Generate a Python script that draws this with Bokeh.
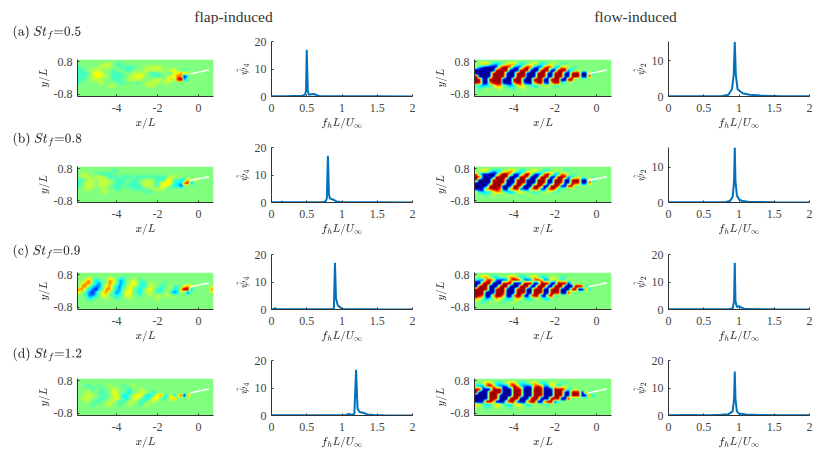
import numpy as np
from bokeh.embed import file_html
from bokeh.resources import INLINE
from bokeh.plotting import figure
from bokeh.layouts import column, row
from bokeh.models import Label, LinearColorMapper, FixedTicker, Range1d

KEYS = "Bnbcl.yYorR"
ANCHORS = [(0, 0, 150), (0, 0, 255), (0, 127, 255), (0, 255, 255), (64, 255, 191), (128, 255, 128),
           (191, 255, 64), (255, 255, 0), (255, 127, 0), (255, 0, 0), (160, 0, 0)]

FLAP_A = [
"",
".......yyy.ll",
"l.....yyyy..lllll...yyyyy",
"ll..yyy...l...ll...yyyyyy.yyY..l",
"lll.yYYy..lll...yyyy.lll...lYYoYy",
"lll.yYYyy.llll.yyYYy..lll.yyYooBl",
"ll..yyy...lll..yyyy...yyy.yo.rRb",
"l.....yy....ll...l..yyyy.yy",
".........yy.........yyy",
"", "", ""]
FLAP_B = [
"",
"..........ll",
".yy...llll",
".yyy.yyy.lll.lll.lllllllll.yyy",
"ll.yy.yyy..lll..ll..yy.lllYYllcco.Y",
"l.yyy.yyyy.lll.lll.yyy.lyYYYlccrRb",
"l.yyy.yyy.lll.lllllyyy.lyYYlccn",
"..yy...y...ll...llll..yyyyl",
".......yy...........ll",
"", "", ""]
FLAP_C = [
"",
"...y.....y...l",
"..Yo.cl..oY.bc..Y.l",
".Yoo.cb..oY.bc.yYylc.y...l",
".oo.cbb.Yo.cbl.Yy.lc.yy.ll.yll.YoY.....y",
"oo.cbnc.oo.cb.yY.lc.yY.lc..yccoRRb.....o",
"Y.lbnc.Yo.lbc.YY.lc.yy.ll.ycbcy.n......y",
"..lbbc.Yy.lcl.Yy..l..y.yy.yy",
"...cl...y..l...y.......y",
"", "", ""]
FLAP_D = [
"",
"",
"..ll..l..y...l..y",
"....l..l..yy..ll..y",
"..yy..ll..Yy..lc..yY..c",
"..yyy..ll.yY.cc.yYY.cc.Yo.cocyrBr",
".yyy..ll..yY.lc.yY.lc.YY.c.Yo",
"..y..ll..yy.ll.yy.ll.yy",
"....l...yy..l..y..l.y",
"", "", ""]
FLOW_A = [
"",
".yoo.cbc.yoo.cc.yo.cc.yy.ll",
"ycnBBBnoRRobnboRobnboRocboYy.l",
"BBBBBBRRRRBBBRRRBBBRRRBBRRRbc.y",
"BBBBBRRRRBBBRRRBBBRRRBBRRRBBRRRBBrc",
"RBBBBRRRRBBBRRRBBBRRRBBRRRBBRRRBBr",
"RRBBRRRRBBBRRRBBBRRRBBRRRBBRRl",
"RRBBoRRRBBBoRRnBBoRRnBoRRc",
"lcbccyoo.cbcyoy.lcl.yy.ll",
".l.y...y...l..y",
"", ""]
FLOW_B = [
"",
".yoo.ccc.yoo.cc.yoy.cc.yy.ll",
"ocnnBBnoRRobnboRobnboRocboYy.l",
"RRBBBBRRRRBBBRRRBBBRRRBBRRRbc.y",
"RBBBBRRRRBBBRRRBBBRRRBBRRRBBRRRBBrc",
"BBBBBRRRRBBBRRRBBBRRRBBRRRBBRRRBBr",
"BBBBRRRRBBBRRRBBBRRRBBRRRBBRRl",
"BBnoRRRoBBoRRnBBoRRnBoRRc",
"ycbccyoo.cbcyoy.lcl.yy.ll",
"...l.y...y...l..y",
"", ""]
FLOW_C = [
"",
".yoo.cc..yoo.cc.yo.cc.yy.ll",
"cbnoRobnnboRRobnboRobbo.yc.y",
"BBRRRBBBRRRBBBRRRBBRRRBBRRRBy",
"BRRRBBBRRRBBBRRRBBRRRBBRRRBBBRRrc",
"RRRRBBRRRBBBRRRBBRRRBBRRRBBBRRBBrc",
"RRRBBBRRRBBBRRRBBRRRBBRRRBBRl",
"RRoBBoRRoBBoRRnBoRRnBoRc",
"oy.bc.oy.cc.oy.cc.y.cc",
"..c.y...l..y.l",
"", ""]
FLOW_D = [
"",
"..yoo.cc.yoo.cc.yo.cc.yy.ll",
"cbboRocbnboRocbnboRobboyc.y",
"RRBBBRRRBBBRRRBBBRRRBBBRRRoc.y",
"RBBBRRRRBBBRRRBBBRRRBBBRRRBBRRRBrc",
"BBBBRRRBBBBRRRBBBRRRBBBRRRBBRRRBBrc",
"BBBBRRRBBBRRRBBBRRRBBBRRRBBRl",
"BBnRRoBBBoRRnBBoRRnBoRRnl",
"oy.cc.oy.cc.oy.cl.y.ll",
"...l..y...l..y",
"", ""]
FOIL_X = [-0.4, 0.5]
FOIL_Y = [0.2, 0.39]
MAP_X = [-5.9, 0.73]
MAP_Y = [-0.9, 0.9]

LABELS = [r"$$\text{(a) }St_f{=}0.5$$", r"$$\text{(b) }St_f{=}0.8$$",
          r"$$\text{(c) }St_f{=}0.9$$", r"$$\text{(d) }St_f{=}1.2$$"]

FA_X = [0, 0.2, 0.44, 0.475, 0.49, 0.5, 0.515, 0.53, 0.56, 0.6, 0.65, 0.7, 1.0, 1.5, 2]
FA_Y = [0.05, 0.05, 0.3, 0.7, 2, 17, 2, 0.6, 0.8, 0.9, 0.4, 0.1, 0.1, 0.08, 0.03]
FB_X = [0, 0.13, 0.15, 0.17, 0.5, 0.74, 0.77, 0.785, 0.8, 0.815, 0.83, 0.87, 0.92, 1.0, 1.5, 2]
FB_Y = [0.05, 0.05, 0.3, 0.05, 0.05, 0.1, 0.5, 1.5, 17, 3, 1.4, 1.1, 0.4, 0.1, 0.08, 0.03]
FC_X = [0, 0.03, 0.05, 0.07, 0.5, 0.86, 0.885, 0.9, 0.915, 0.94, 0.97, 1.0, 1.05, 1.5, 2]
FC_Y = [0.05, 0.1, 0.5, 0.1, 0.05, 0.05, 0.4, 17, 4, 1.5, 0.9, 0.2, 0.1, 0.05, 0.03]
FD_X = [0, 0.5, 0.9, 1.05, 1.1, 1.14, 1.175, 1.2, 1.22, 1.25, 1.3, 1.36, 1.45, 1.6, 2]
FD_Y = [0.05, 0.05, 0.1, 0.2, 0.6, 0.2, 0.6, 16.6, 2.5, 1.3, 1.0, 0.4, 0.15, 0.08, 0.03]
GA_X = [0, 0.5, 0.75, 0.85, 0.9, 0.925, 0.94, 0.955, 0.98, 1.05, 1.15, 1.3, 1.6, 2]
GA_Y = [0.05, 0.05, 0.1, 0.5, 2, 6, 15.2, 6, 2, 0.9, 0.5, 0.25, 0.1, 0.05]
GB_X = [0, 0.5, 0.8, 0.87, 0.91, 0.93, 0.94, 0.95, 0.97, 1.0, 1.05, 1.15, 1.5, 2]
GB_Y = [0.05, 0.05, 0.1, 0.4, 1.6, 6, 15.7, 6, 2, 0.9, 0.4, 0.15, 0.08, 0.03]
GC_X = [0, 0.5, 0.85, 0.91, 0.93, 0.94, 0.95, 0.97, 1.0, 1.03, 1.08, 1.5, 2]
GC_Y = [0.05, 0.05, 0.1, 0.4, 3, 17, 3, 0.9, 1.2, 0.8, 0.15, 0.05, 0.03]
GD_X = [0, 0.25, 0.6, 0.75, 0.85, 0.91, 0.93, 0.94, 0.95, 0.97, 1.0, 1.1, 1.3, 1.6, 2]
GD_Y = [0.1, 0.15, 0.1, 0.25, 0.5, 1.5, 6, 16, 6, 1.5, 0.7, 0.35, 0.15, 0.1, 0.05]
FREQ_TICKS = [0, 0.5, 1, 1.5, 2]

INK = "#333333"
SERIF = "Liberation Serif"
levels = np.linspace(0, 10, 256)
anchors = np.array(ANCHORS, dtype=float)
palette = ["#%02x%02x%02x" % tuple(int(round(np.interp(v, np.arange(11), anchors[:, k]))) for k in range(3))
           for v in levels]
mapper = LinearColorMapper(palette=palette, low=0, high=10)


def display_grid(rows, k=4):
    grid = np.array([[KEYS.index(c) for c in r.ljust(40, ".")[:40]] for r in rows], dtype=float)
    ny, nx = grid.shape
    yy = (np.arange(ny * k) + 0.5) / k - 0.5
    xx = (np.arange(nx * k) + 0.5) / k - 0.5
    by_col = np.array([np.interp(yy, np.arange(ny), grid[:, j]) for j in range(nx)]).T
    fine = np.array([np.interp(xx, np.arange(nx), line) for line in by_col])
    return np.flipud(fine)


def style(p, xticks, yticks, xlabel, ylabel, ylab_standoff):
    p.grid.visible = False
    p.outline_line_color = None
    p.background_fill_color = None
    p.border_fill_color = None
    for ax, ticks in ((p.xaxis[0], xticks), (p.yaxis[0], yticks)):
        ax.ticker = FixedTicker(ticks=ticks)
        ax.major_label_overrides = {t: f"{t:g}" for t in ticks}
        ax.major_tick_in = 2
        ax.major_tick_out = 0
        ax.minor_tick_line_color = None
        ax.axis_line_color = INK
        ax.axis_line_width = 1
        ax.major_tick_line_color = INK
        ax.major_label_text_font = SERIF
        ax.major_label_text_font_size = "12px"
        ax.major_label_text_color = "#444444"
        ax.axis_label_text_color = "#333333"
        ax.axis_label_text_font_size = "11px"
        ax.axis_label_text_font = SERIF
    p.xaxis[0].axis_label = xlabel
    p.yaxis[0].axis_label = ylabel
    p.xaxis[0].major_label_standoff = 7
    p.xaxis[0].axis_label_standoff = 3
    p.yaxis[0].major_label_standoff = 5
    p.yaxis[0].axis_label_standoff = ylab_standoff


def map_panel(rows, total_h, top, h, left, w, right):
    p = figure(width=left + w + right, height=total_h, x_range=Range1d(*MAP_X), y_range=Range1d(*MAP_Y),
               toolbar_location=None, output_backend="svg", min_border_left=left, min_border_right=right,
               min_border_top=top, min_border_bottom=total_h - top - h)
    p.image(image=[display_grid(rows)], x=MAP_X[0], y=MAP_Y[0], dw=MAP_X[1] - MAP_X[0], dh=MAP_Y[1] - MAP_Y[0],
            color_mapper=mapper)
    p.line(FOIL_X, FOIL_Y, line_color="white", line_width=1.5)
    style(p, [-4, -2, 0], [-0.8, 0.8], "$$x/L$$", "$$y/L$$", 0)
    return p


def line_panel(xs, ys, ymax, yticks, ylabel, total_h, top, h, left, right):
    p = figure(width=left + 141 + right, height=total_h, x_range=Range1d(0, 2), y_range=Range1d(0, ymax),
               toolbar_location=None, output_backend="svg", min_border_left=left, min_border_right=right,
               min_border_top=top, min_border_bottom=total_h - top - h)
    p.line(xs, ys, line_color="#0072BD", line_width=2)
    style(p, FREQ_TICKS, yticks, r"$$f_hL/U_\infty$$", ylabel, 2)
    return p


def band(width, height):
    b = figure(width=width, height=height, x_range=Range1d(0, 1), y_range=Range1d(0, 1),
               toolbar_location=None, output_backend="svg", min_border=0)
    b.axis.visible = False
    b.grid.visible = False
    b.outline_line_color = None
    return b


header = band(822, 24)
for txt, cx in (("flap-induced", 233), ("flow-induced", 635)):
    header.add_layout(Label(x=cx, y=8, x_units="screen", y_units="screen", text=txt, text_font=SERIF,
                            text_font_size="15.5px", text_color="#333333", text_align="center",
                            text_baseline="middle"))

# height, band height, label offset from band top, map top, line top
specs = [
    (108, 20, 8, FLAP_A, FLOW_A, FA_X, FA_Y, GA_X, GA_Y, 20, [0, 10, 20], 15.3, [0, 10], 35, 17),
    (106, 20, 7, FLAP_B, FLOW_B, FB_X, FB_Y, GB_X, GB_Y, 20, [0, 10, 20], 15.6, [0, 10], 34, 15),
    (107, 24, 13, FLAP_C, FLOW_C, FC_X, FC_Y, GC_X, GC_Y, 20, [0, 10, 20], 20, [0, 10, 20], 34, 16),
    (106, 20, 9, FLAP_D, FLOW_D, FD_X, FD_Y, GD_X, GD_Y, 20, [0, 10, 20], 20, [0, 10, 20], 33, 15),
]
rows_ = []
for i, (H, bh, ly, fl, fw, ax_, ay_, bx_, by_, m1, t1, m2, t2, mtop, ltop) in enumerate(specs):
    lb = band(227, bh)
    lb.add_layout(Label(x=12, y=bh - ly, x_units="screen", y_units="screen", text=LABELS[i], text_font=SERIF,
                        text_font_size="12px", text_color="#333333", text_baseline="middle"))
    rows_.append(row(
        column(column(lb, spacing=0), map_panel(fl, H - bh, mtop - bh, 38, 77, 136, 14), spacing=0),
        column(line_panel(ax_, ay_, m1, t1, r"$$\hat{\psi}_4$$", H, ltop, 55, 44, 10), spacing=0),
        column(map_panel(fw, H, mtop, 38, 52, 137, 11), spacing=0),
        column(line_panel(bx_, by_, m2, t2, r"$$\hat{\psi}_2$$", H, ltop, 55, 46, 13), spacing=0),
        spacing=0))

page = column(header, *rows_, spacing=0)
open("out.html", "w").write(file_html(page, INLINE))
